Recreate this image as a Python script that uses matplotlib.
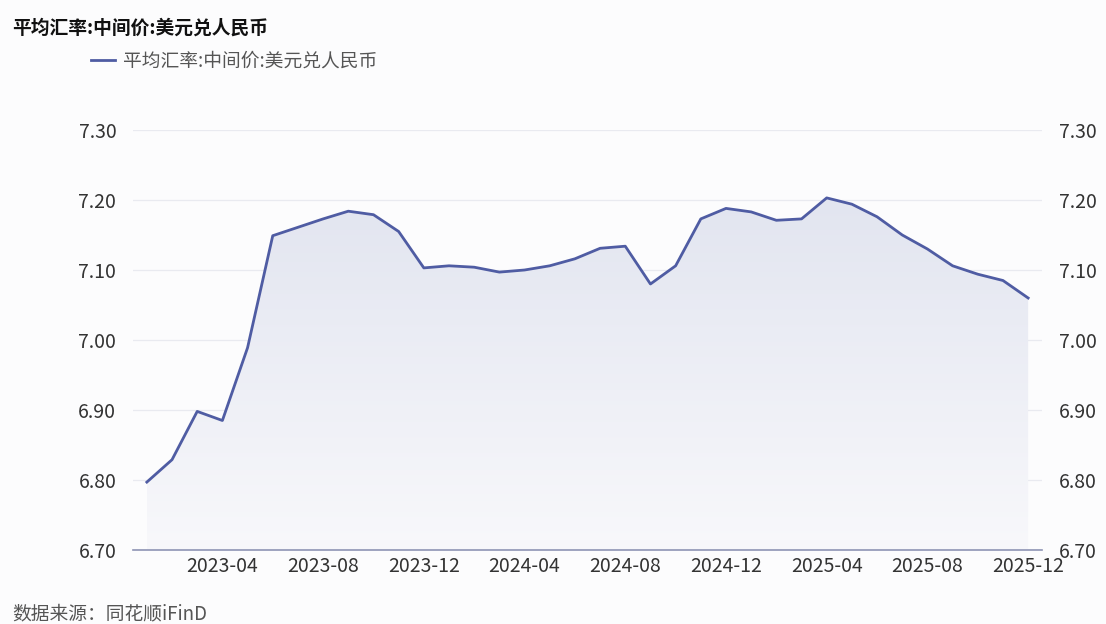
import numpy as np
import pandas as pd
import matplotlib
matplotlib.use('Agg')
import matplotlib.pyplot as plt
from matplotlib.colors import LinearSegmentedColormap

plt.rcParams['font.family'] = ['Noto Sans CJK SC', 'DejaVu Sans']

# monthly data, 2023-01 .. 2025-12
months = pd.date_range('2023-01-01', periods=36, freq='MS').strftime('%Y-%m').tolist()
rate = [6.797, 6.829, 6.898, 6.885, 6.989, 7.149, 7.161, 7.173, 7.184, 7.179,
        7.155, 7.103, 7.106, 7.104, 7.097, 7.100, 7.106, 7.116, 7.131, 7.134,
        7.080, 7.106, 7.173, 7.188, 7.183, 7.171, 7.173, 7.203, 7.194, 7.176,
        7.150, 7.130, 7.106, 7.094, 7.085, 7.060]
yticks = [6.70, 6.80, 6.90, 7.00, 7.10, 7.20, 7.30]
series_name = '平均汇率:中间价:美元兑人民币'

line_color = '#4f5ca3'
bg = '#fcfcfd'

fig = plt.figure(figsize=(11.06, 6.24), dpi=100, facecolor=bg)
ax = fig.add_axes([133 / 1106, 1 - 550 / 624, (1042 - 133) / 1106, 420 / 624])
ax.set_facecolor(bg)

x = np.arange(len(rate))
ax.set_xlim(-0.55, len(rate) - 0.45)
ax.set_ylim(6.70, 7.30)

# gradient area under the line
fill = ax.fill_between(x, rate, 6.70, color='none', lw=0)
cmap = LinearSegmentedColormap.from_list('g', ['#f8f8fb', '#e2e5f0'])
grad = np.linspace(0, 1, 256).reshape(-1, 1)
img = ax.imshow(grad, cmap=cmap, aspect='auto', origin='lower',
                extent=[x[0], x[-1], 6.70, max(rate)], zorder=1)
img.set_clip_path(fill.get_paths()[0], transform=ax.transData)

ax.plot(x, rate, color=line_color, lw=2.0, zorder=3, label=series_name,
        solid_joinstyle='round')

ax.set_yticks(yticks)
ax.set_yticklabels([f'{v:.2f}' for v in yticks])
ax.grid(axis='y', color='#e9eaf0', lw=0.9)
ax.set_axisbelow(True)

tick_pos = list(range(3, len(months), 4))
ax.set_xticks(tick_pos)
ax.set_xticklabels([months[i] for i in tick_pos])

for s in ['top', 'left', 'right']:
    ax.spines[s].set_visible(False)
ax.spines['bottom'].set_color('#8e94b4')
ax.spines['bottom'].set_linewidth(1.2)
ax.spines['bottom'].set_zorder(4)

ax.tick_params(axis='y', length=0, labelleft=True, labelright=True,
               labelsize=14, colors='#333333', pad=12)
ax.tick_params(axis='x', length=0, labelsize=14, colors='#333333', pad=4)

fig.text(12 / 1106, 1 - 28 / 624, series_name, fontsize=13.5, fontweight='bold',
         color='#111111', va='center', ha='left')
ax.legend(loc='upper left', bbox_to_anchor=(91 / 1106, 1 - 51 / 624),
          bbox_transform=fig.transFigure, frameon=False, fontsize=13.5,
          labelcolor='#555555', handlelength=1.3, handletextpad=0.4,
          borderpad=0, borderaxespad=0)
fig.text(12 / 1106, 1 - 614 / 624, '数据来源：同花顺iFinD', fontsize=13.5,
         color='#555555', va='center', ha='left')

fig.savefig('out.png', dpi=100, facecolor=bg)
